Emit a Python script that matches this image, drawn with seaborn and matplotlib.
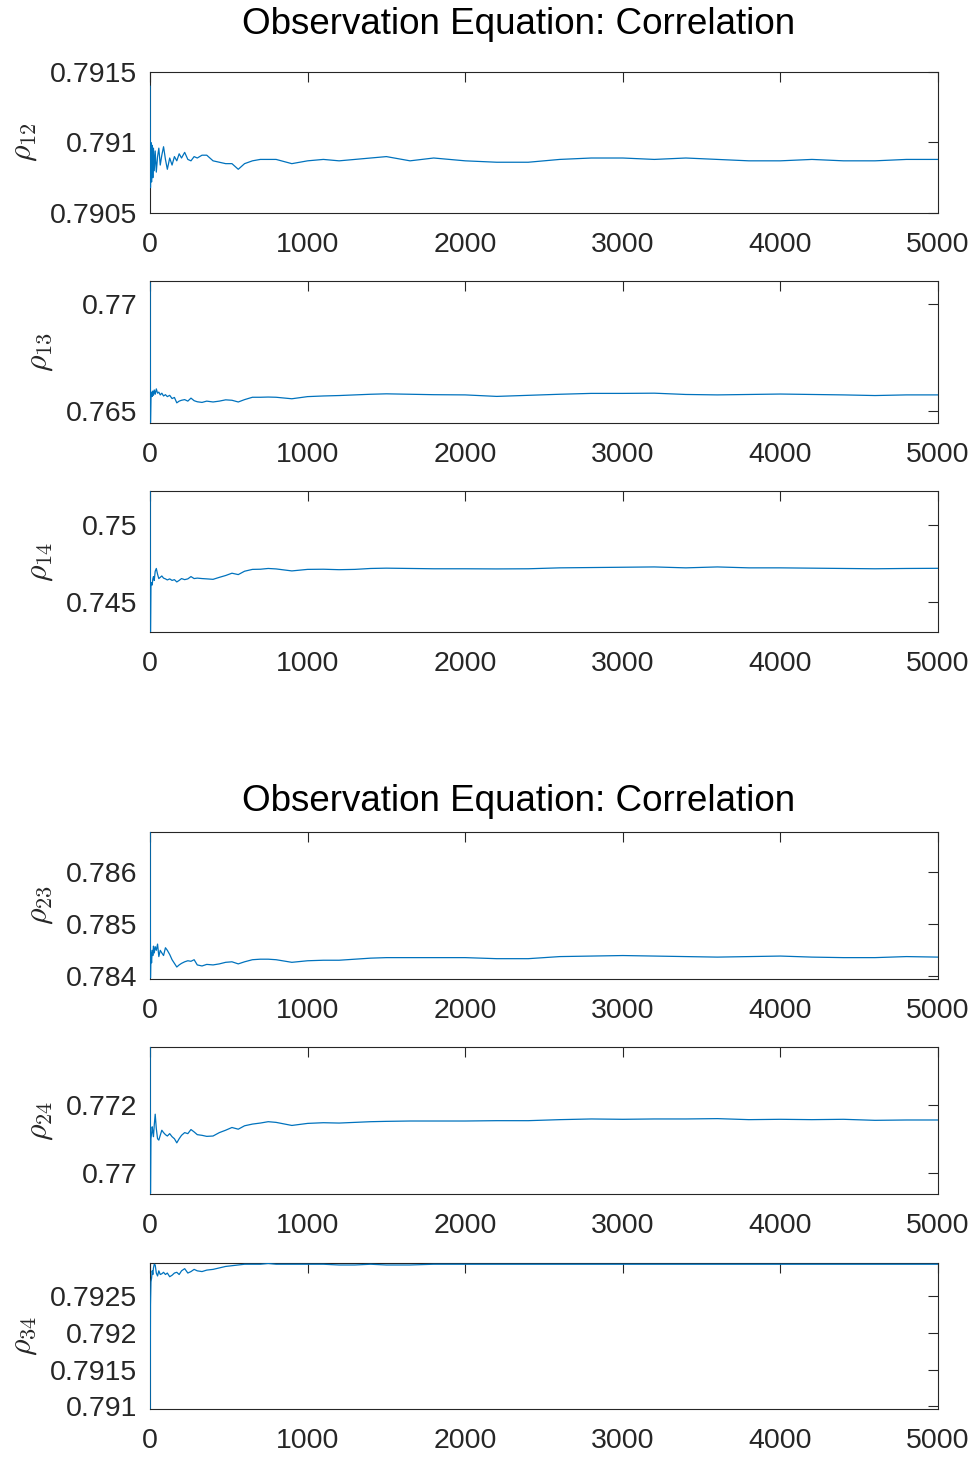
import numpy as np
import pandas as pd
import matplotlib
matplotlib.use("Agg")
import matplotlib.pyplot as plt
from matplotlib.ticker import FuncFormatter
import seaborn as sns

# Iteration grid at which the running correlation estimates are recorded
iterations = [1, 3, 6, 10, 14, 18, 22, 27, 33, 40,
              48, 56, 65, 75, 86, 98, 110, 125, 140, 155,
              170, 185, 200, 220, 240, 260, 280, 300, 330, 360,
              400, 440, 480, 520, 560, 600, 650, 700, 750, 800,
              900, 1000, 1100, 1200, 1300, 1400, 1500, 1650, 1800, 2000,
              2200, 2400, 2600, 2800, 3000, 3200, 3400, 3600, 3800, 4000,
              4200, 4400, 4600, 4800, 5000]

rho12 = [0.79140, 0.79068, 0.79100, 0.79072, 0.79098, 0.79075, 0.79096, 0.79080, 0.79094, 0.79079,
         0.79090, 0.79096, 0.79084, 0.79091, 0.79097, 0.79088, 0.79081, 0.79089, 0.79084, 0.79090,
         0.79087, 0.79092, 0.79089, 0.79093, 0.79088, 0.79087, 0.79090, 0.79089, 0.79091, 0.79091,
         0.79087, 0.79086, 0.79085, 0.79085, 0.79081, 0.79085, 0.79087, 0.79088, 0.79088, 0.79088,
         0.79085, 0.79087, 0.79088, 0.79087, 0.79088, 0.79089, 0.79090, 0.79087, 0.79089, 0.79087,
         0.79086, 0.79086, 0.79088, 0.79089, 0.79089, 0.79088, 0.79089, 0.79088, 0.79087, 0.79087,
         0.79088, 0.79087, 0.79087, 0.79088, 0.79088]

rho13 = [0.77100, 0.76448, 0.76560, 0.76590, 0.76570, 0.76595, 0.76575, 0.76600, 0.76580, 0.76605,
         0.76585, 0.76590, 0.76577, 0.76585, 0.76572, 0.76578, 0.76569, 0.76575, 0.76560, 0.76565,
         0.76540, 0.76548, 0.76552, 0.76555, 0.76548, 0.76562, 0.76550, 0.76545, 0.76542, 0.76548,
         0.76544, 0.76548, 0.76554, 0.76552, 0.76544, 0.76555, 0.76566, 0.76566, 0.76567, 0.76566,
         0.76559, 0.76569, 0.76572, 0.76574, 0.76577, 0.76580, 0.76582, 0.76580, 0.76578, 0.76577,
         0.76570, 0.76575, 0.76580, 0.76584, 0.76584, 0.76585, 0.76579, 0.76577, 0.76579, 0.76581,
         0.76579, 0.76577, 0.76574, 0.76577, 0.76577]

rho14 = [0.75220, 0.74305, 0.74600, 0.74625, 0.74610, 0.74650, 0.74665, 0.74640, 0.74700, 0.74718,
         0.74680, 0.74652, 0.74660, 0.74669, 0.74655, 0.74650, 0.74643, 0.74650, 0.74640, 0.74645,
         0.74630, 0.74640, 0.74652, 0.74645, 0.74650, 0.74665, 0.74652, 0.74655, 0.74652, 0.74650,
         0.74647, 0.74660, 0.74672, 0.74687, 0.74678, 0.74700, 0.74712, 0.74713, 0.74718, 0.74715,
         0.74702, 0.74712, 0.74713, 0.74710, 0.74712, 0.74718, 0.74720, 0.74718, 0.74716, 0.74716,
         0.74715, 0.74716, 0.74722, 0.74724, 0.74726, 0.74728, 0.74722, 0.74728, 0.74722, 0.74722,
         0.74720, 0.74718, 0.74716, 0.74718, 0.74719]

rho23 = [0.78677, 0.78397, 0.78445, 0.78426, 0.78450, 0.78440, 0.78458, 0.78445, 0.78457, 0.78450,
         0.78462, 0.78438, 0.78450, 0.78445, 0.78440, 0.78455, 0.78450, 0.78442, 0.78432, 0.78425,
         0.78418, 0.78422, 0.78425, 0.78428, 0.78430, 0.78429, 0.78432, 0.78422, 0.78420, 0.78423,
         0.78422, 0.78424, 0.78427, 0.78428, 0.78424, 0.78428, 0.78432, 0.78433, 0.78433, 0.78432,
         0.78427, 0.78430, 0.78431, 0.78431, 0.78433, 0.78435, 0.78436, 0.78436, 0.78436, 0.78436,
         0.78434, 0.78434, 0.78438, 0.78439, 0.78440, 0.78439, 0.78438, 0.78437, 0.78438, 0.78439,
         0.78437, 0.78436, 0.78436, 0.78438, 0.78437]

rho24 = [0.77369, 0.76940, 0.77100, 0.77115, 0.77135, 0.77120, 0.77106, 0.77140, 0.77172, 0.77130,
         0.77100, 0.77096, 0.77110, 0.77125, 0.77118, 0.77112, 0.77108, 0.77115, 0.77106, 0.77100,
         0.77088, 0.77100, 0.77110, 0.77118, 0.77115, 0.77127, 0.77120, 0.77112, 0.77110, 0.77107,
         0.77108, 0.77118, 0.77125, 0.77133, 0.77128, 0.77138, 0.77143, 0.77146, 0.77150, 0.77148,
         0.77139, 0.77145, 0.77147, 0.77146, 0.77148, 0.77150, 0.77151, 0.77152, 0.77152, 0.77152,
         0.77153, 0.77153, 0.77156, 0.77158, 0.77157, 0.77158, 0.77158, 0.77159, 0.77156, 0.77157,
         0.77156, 0.77157, 0.77154, 0.77155, 0.77155]

rho34 = [0.79097, 0.79239, 0.79270, 0.79275, 0.79285, 0.79280, 0.79289, 0.79294, 0.79293, 0.79282,
         0.79278, 0.79285, 0.79280, 0.79281, 0.79283, 0.79280, 0.79282, 0.79277, 0.79279, 0.79282,
         0.79283, 0.79280, 0.79285, 0.79288, 0.79282, 0.79284, 0.79287, 0.79285, 0.79284, 0.79286,
         0.79287, 0.79289, 0.79291, 0.79292, 0.79293, 0.79294, 0.79294, 0.79294, 0.79295, 0.79294,
         0.79294, 0.79294, 0.79294, 0.79293, 0.79293, 0.79294, 0.79293, 0.79293, 0.79294, 0.79294,
         0.79294, 0.79294, 0.79294, 0.79294, 0.79294, 0.79294, 0.79294, 0.79294, 0.79294, 0.79294,
         0.79294, 0.79294, 0.79294, 0.79294, 0.79294]

labels = [r"$\rho_{12}$", r"$\rho_{13}$", r"$\rho_{14}$",
          r"$\rho_{23}$", r"$\rho_{24}$", r"$\rho_{34}$"]
y_limits = [(0.7905, 0.79149), (0.76446, 0.77108), (0.74303, 0.75224),
            (0.78395, 0.78677), (0.76938, 0.77369), (0.790965, 0.792957)]
y_ticks = [[0.7905, 0.791, 0.7915], [0.765, 0.77], [0.745, 0.75],
           [0.784, 0.785, 0.786], [0.77, 0.772], [0.791, 0.7915, 0.792, 0.7925]]
x_ticks = [0, 1000, 2000, 3000, 4000, 5000]
title_text = "Observation Equation: Correlation"

series = [rho12, rho13, rho14, rho23, rho24, rho34]

sns.set_theme(style="white")
plt.rcParams["font.family"] = ["Liberation Sans", "DejaVu Sans"]
plt.rcParams["mathtext.fontset"] = "cm"

W, H = 976, 1457
fig = plt.figure(figsize=(W / 100, H / 100), dpi=100)

# panel boxes in pixels: (top, bottom)
boxes = [(72, 213), (281, 423), (491, 632), (832, 979), (1047, 1194), (1263, 1409)]
left_px, right_px = 150, 938
line_color = "#0072BD"
axis_color = "#262626"

for vals, lab, ylim, yt, (top, bot) in zip(series, labels, y_limits, y_ticks, boxes):
    ax = fig.add_axes([left_px / W, 1 - bot / H, (right_px - left_px) / W, (bot - top) / H])
    df = pd.DataFrame({"iteration": iterations, "value": vals})
    sns.lineplot(data=df, x="iteration", y="value", ax=ax, color=line_color,
                 linewidth=0.9, estimator=None, zorder=3)
    ax.set_xlim(0, 5000)
    ax.set_ylim(*ylim)
    ax.set_xticks(x_ticks)
    ax.set_yticks(yt)
    ax.yaxis.set_major_formatter(FuncFormatter(lambda v, p: f"{v:g}"))
    ax.xaxis.set_major_formatter(FuncFormatter(lambda v, p: f"{v:g}"))
    ax.set_xlabel("")
    ax.set_ylabel(lab, fontsize=23, color=axis_color, labelpad=8)
    ax.tick_params(axis="both", which="major", direction="in", length=7, width=0.8,
                   color=axis_color, labelcolor=axis_color, labelsize=20.5,
                   top=True, right=True)
    ax.tick_params(axis="x", pad=14)
    ax.tick_params(axis="y", pad=9)
    for s in ax.spines.values():
        s.set_visible(True)
        s.set_color(axis_color)
        s.set_linewidth(0.8)
        s.set_zorder(2)

fig.text(519 / W, 1 - 24 / H, title_text, ha="center", va="center",
         fontsize=26.5, color="black")
fig.text(519 / W, 1 - 802 / H, title_text, ha="center", va="center",
         fontsize=26.5, color="black")

fig.savefig("out.png", dpi=100, facecolor="white")
